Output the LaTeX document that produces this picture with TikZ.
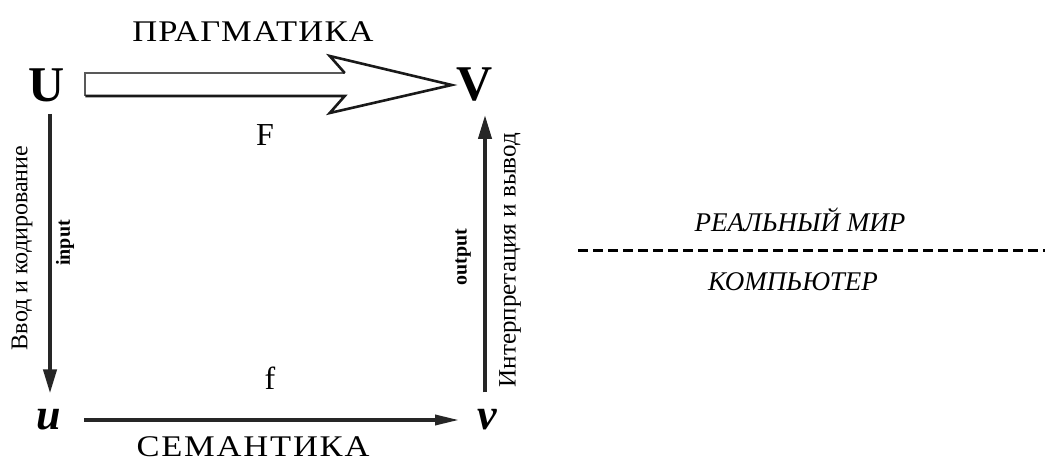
\documentclass[tikz,border=0pt]{standalone}
\usepackage{fontspec}
\setmainfont{Liberation Serif}
\usetikzlibrary{arrows.meta,calc}
\newcommand{\fs}[1]{\fontsize{#1}{#1}\selectfont}
\begin{document}
\begin{tikzpicture}[x=1pt,y=-1pt,
  lbl/.style={inner sep=0pt, text=black},
  big/.style={lbl, font=\fs{50}\bfseries},
  small/.style={lbl, font=\fs{44}\bfseries\itshape},
  mainarrow/.style={line width=4pt, draw=black!85, -{Triangle[length=24pt,width=13pt]}},
  botarrow/.style={line width=3.5pt, draw=black!85, -{Triangle[length=24pt,width=10pt]}},
]
\useasboundingbox (0,0) rectangle (1045,468);
\fill[white] (0,0) rectangle (1045,468);

\node[big] (U) at (47,85) {U};
\node[big] (V) at (475,85) {V};
\node[small] (u) at (49,420) {u};
\node[small] (v) at (487,420) {v};

\node[lbl, font=\fs{30}\addfontfeature{FakeStretch=1.15,LetterSpace=4}] (prag) at (253,32) {ПРАГМАТИКА};
\node[lbl, font=\fs{30}\addfontfeature{FakeStretch=1.15,LetterSpace=6}] (sem) at (253,447) {СЕМАНТИКА};
\node[lbl, font=\fs{32}] (F) at (265,135) {F};
\node[lbl, font=\fs{32}] (f) at (270,378) {f};

% hollow double arrow from U to V
\coordinate (s1) at ($(U.east)+(20,-12)$);
\coordinate (s2) at ($(U.east)+(20,11)$);
\coordinate (h1) at ($(V.west)+(-112,-12)$);
\coordinate (h2) at ($(V.west)+(-127,-29)$);
\coordinate (tip) at ($(V.west)+(-5,0)$);
\coordinate (h3) at ($(V.west)+(-127,28)$);
\coordinate (h4) at ($(V.west)+(-112,11)$);
\fill[white] (s1) -- (h1) -- (h2) -- (tip) -- (h3) -- (h4) -- (s2) -- cycle;
\draw[line width=1.6pt, draw=black!65] (s2) -- (s1) -- (h1);
\draw[line width=2.6pt, draw=black!90, line join=miter] (h1) -- (h2) -- (tip) -- (h3) -- (h4) -- (s2);

% input arrow
\coordinate (ls) at ($(U.south)+(3,12)$);
\draw[mainarrow] (ls) -- ($(ls |- u.north)+(0,-16)$);
% output arrow
\coordinate (rs) at ($(v.north)+(-2,-17)$);
\draw[mainarrow] (rs) -- ($(rs |- V.south)+(0,13)$);
% semantics arrow
\draw[botarrow] ($(u.east)+(23,0)$) -- ($(v.west)+(-18,0)$);

\node[lbl, font=\fs{24}, rotate=90] (vvod) at (22,248) {Ввод и кодирование};
\node[lbl, font=\fs{20}\bfseries, rotate=90] (inp) at (65,243) {input};
\node[lbl, font=\fs{20}\bfseries, rotate=90] (outp) at (463,257) {output};
\node[lbl, font=\fs{25}, rotate=90] (interp) at (510,260) {Интерпретация и вывод};

\node[lbl, font=\fs{27}\itshape] (real) at (800,220) {РЕАЛЬНЫЙ МИР};
\node[lbl, font=\fs{27}\itshape] (comp) at (793,282) {КОМПЬЮТЕР};
\coordinate (dl) at (578,250);
\coordinate (dr) at (1045,250);
\draw[line width=3pt, dash pattern=on 10pt off 5pt] (dl) -- (dr);
\end{tikzpicture}
\end{document}
